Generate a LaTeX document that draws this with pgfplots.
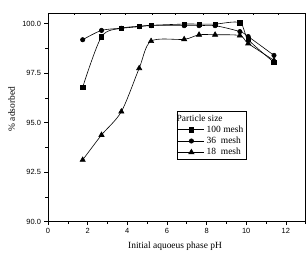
\documentclass[border=0pt]{standalone}
\usepackage{pgfplots}
\pgfplotsset{compat=1.18}
\usepackage{fontspec}
\setmainfont{Liberation Serif}
\newfontfamily\tickfont{Liberation Sans}
\begin{document}
\begin{tikzpicture}
\useasboundingbox (-48bp,-34.3bp) rectangle (260bp,221.7bp);
\begin{axis}[
  at={(0,0)}, anchor=south west,
  scale only axis, width=257.7bp, height=208.4bp,
  xmin=0, xmax=13, ymin=90, ymax=100.525,
  xtick={0,2,...,12}, minor xtick={1,3,...,13},
  ytick={90,92.5,95,97.5,100}, minor ytick={91.25,93.75,96.25,98.75},
  yticklabel style={/pgf/number format/.cd,fixed,fixed zerofill,precision=1},
  /pgf/number format/assume math mode=true,
  ticklabel style={font=\tickfont\fontsize{7.5}{9}\selectfont},
  xtick pos=bottom, ytick pos=left,
  tick align=outside,
  major tick length=3.5bp, minor tick length=2.5bp,
  tick style={black, line width=0.6pt},
  axis line style={line width=0.6pt},
  xlabel={Initial aquoeus phase pH},
  ylabel={\% adsorbed},
  label style={font=\fontsize{9.5}{11}\selectfont},
  xlabel style={at={(axis description cs:0.493,-0.12)}, anchor=center},
  ylabel style={at={(axis description cs:-0.141,0.54)}, anchor=center},
  every axis plot/.append style={black, line width=0.6pt, smooth, tension=0.5},
  legend style={at={(axis description cs:0.5,0.53)}, anchor=north west,
    draw=black, line width=0.5pt, fill=white,
    font=\fontsize{9.5}{11}\selectfont, inner xsep=1bp, inner ysep=1bp,
    row sep=-0.8bp, cells={anchor=west}},
  legend image code/.code={
    \draw[mark repeat=2, mark phase=2, #1] plot coordinates {(0bp,0bp) (13bp,0bp) (26bp,0bp)};},
]
\addlegendimage{empty legend}
\addlegendentry{\hspace*{-30bp}Particle size}
\addplot[mark=square*, mark size=2.2bp, mark options={solid}] coordinates {
 (1.75,96.79) (2.7,99.34) (3.7,99.77) (4.6,99.87) (5.2,99.92) (6.87,99.98) (7.62,99.98) (8.43,99.98) (9.68,100.05) (10.1,99.2) (11.4,98.05)};
\addlegendentry{100 mesh}
\addplot[mark=*, mark size=2.2bp] coordinates {
 (1.75,99.19) (2.7,99.66) (3.7,99.77) (4.6,99.85) (5.2,99.9) (6.87,99.9) (7.62,99.9) (8.43,99.9) (9.68,99.6) (10.1,99.35) (11.4,98.4)};
\addlegendentry{36\ \ mesh}
\addplot[mark=triangle*, mark size=3bp] coordinates {
 (1.75,93.12) (2.7,94.38) (3.7,95.56) (4.6,97.75) (5.2,99.12) (6.87,99.21) (7.62,99.44) (8.43,99.44) (9.68,99.4) (10.1,99.0) (11.4,98.15)};
\addlegendentry{18\ \ mesh}
\end{axis}
\begin{axis}[
  at={(0,0)}, anchor=south west,
  scale only axis, width=257.7bp, height=208.4bp,
  xmin=0, xmax=13, ymin=90, ymax=100.525,
  axis x line*=top, axis y line*=right,
  xtick={1.31,2.62,3.88,5.24,6.4,7.81,9.07,10.33,11.59}, xticklabels={},
  ytick=\empty,
  tick align=inside, major tick length=2bp,
  tick style={black, line width=0.5pt},
  axis line style={line width=0.5pt},
]
\end{axis}
\end{tikzpicture}
\end{document}
